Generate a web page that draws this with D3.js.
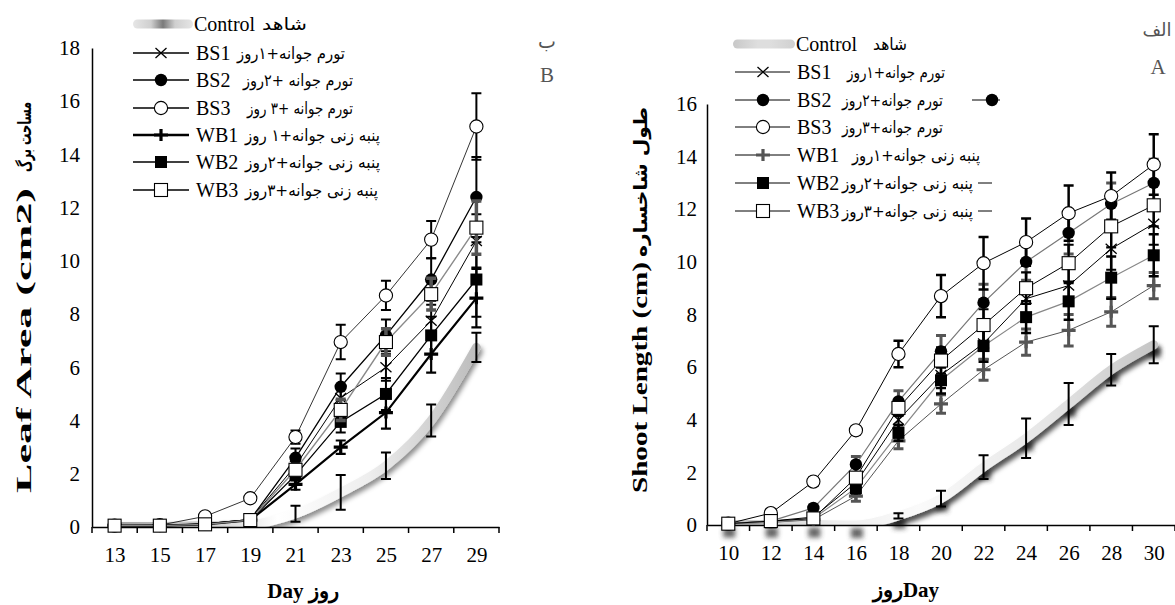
<!DOCTYPE html>
<html><head><meta charset="utf-8">
<script src="https://cdn.jsdelivr.net/npm/d3@7"></script>
<style>body{margin:0;background:#fff}svg{display:block}</style>
</head><body>
<svg id="c" width="1175" height="605"></svg>
<script>
// ---------- DATA ----------
const seriesNames = ["Control","BS1","BS2","BS3","WB1","WB2","WB3"];

const leafDays = [13,15,17,19,21,23,25,27,29];
const leafYTicks = [0,2,4,6,8,10,12,14,16,18];
const leafControl = [0.02,0.02,0.05,0.1,0.5,1.3,2.3,4.0,6.75];
const leafBS1 = [0.05,0.05,0.12,0.28,2.3,4.85,6.0,7.75,10.75];
const leafBS2 = [0.05,0.05,0.12,0.28,2.6,5.27,7.2,9.3,12.4];
const leafBS3 = [0.05,0.07,0.4,1.08,3.38,6.95,8.7,10.8,15.05];
const leafWB1 = [0.05,0.05,0.1,0.26,1.6,3.0,4.3,6.5,8.6];
const leafWB2 = [0.05,0.05,0.1,0.26,1.95,3.95,5.0,7.2,9.3];
const leafWB3 = [0.05,0.05,0.1,0.26,2.15,4.4,6.95,8.75,11.25];
const leafErrControl = [0,0,0,0.05,0.3,0.65,0.5,0.6,0.55];
const leafErrBS1 = [0.02,0.02,0.05,0.05,0.2,0.4,0.5,0.6,1.0];
const leafErrBS2 = [0.02,0.02,0.05,0.05,0.35,0.5,0.6,0.8,1.5];
const leafErrBS3 = [0.05,0.05,0.1,0.1,0.25,0.65,0.55,0.7,1.25];
const leafErrWB1 = [0.02,0.02,0.05,0.05,0.2,0.25,0.6,0.7,1.1];
const leafErrWB2 = [0.02,0.02,0.05,0.05,0.2,0.4,0.6,0.7,1.4];
const leafErrWB3 = [0.02,0.02,0.05,0.05,0.2,0.4,0.5,0.6,1.0];
const leafLegendFa = ["شاهد","تورم جوانه+۱روز","تورم جوانه +۲روز","تورم جوانه +۳ روز","پنبه زنی جوانه+۱ روز","پنبه زنی جوانه+۲روز","پنبه زنی جوانه+۳روز"];

const shootDays = [10,12,14,16,18,20,22,24,26,28,30];
const shootYTicks = [0,2,4,6,8,10,12,14,16];
const shootControl = [0.02,0.02,0.02,0.0,0.35,1.0,2.2,3.3,4.6,5.9,6.85];
const shootBS1 = [0.05,0.15,0.3,1.6,4.0,5.7,6.9,8.6,9.1,10.5,11.45];
const shootBS2 = [0.05,0.15,0.65,2.3,4.7,6.6,8.45,10.0,11.1,12.2,13.0];
const shootBS3 = [0.05,0.45,1.65,3.6,6.5,8.7,9.95,10.75,11.85,12.5,13.7];
const shootWB1 = [0.05,0.1,0.2,1.1,3.2,4.6,5.9,6.95,7.4,8.1,9.1];
const shootWB2 = [0.05,0.1,0.25,1.4,3.5,5.5,6.8,7.9,8.5,9.4,10.25];
const shootWB3 = [0.05,0.15,0.25,1.8,4.45,6.25,7.6,9.0,9.95,11.35,12.15];
const shootErrControl = [0,0,0,0,0.1,0.3,0.45,0.75,0.8,0.6,0.7];
const shootErrBS1 = [0.02,0.05,0.05,0.2,0.3,0.5,0.6,0.6,0.7,0.8,0.8];
const shootErrBS2 = [0.02,0.05,0.1,0.3,0.4,0.6,0.7,0.7,0.8,0.8,0.9];
const shootErrBS3 = [0.05,0.1,0.15,0.15,0.5,0.8,1.0,0.9,1.05,0.9,1.15];
const shootErrWB1 = [0.02,0.05,0.05,0.2,0.3,0.35,0.4,0.5,0.6,0.55,0.5];
const shootErrWB2 = [0.02,0.05,0.05,0.2,0.3,0.5,0.6,0.6,0.7,0.8,0.8];
const shootErrWB3 = [0.02,0.05,0.05,0.2,0.3,0.5,0.6,0.6,0.7,0.8,0.8];
const shootLegendFa = ["شاهد","تورم جوانه+۱روز","تورم جوانه+۲روز","تورم جوانه+۳روز","پنبه زنی جوانه+۱روز","پنبه زنی جوانه+۲روز","پنبه زنی جوانه+۳روز"];

// ---------- STYLES ----------
const leafStyle = {
  BS1:{line:"#000",lw:1,err:"#000",ew:2,mk:"x",mc:"#000"},
  BS2:{line:"#000",lw:1.3,err:"#000",ew:2,mk:"dot",mc:"#000"},
  BS3:{line:"#000",lw:0.8,err:"#000",ew:2,mk:"circle",mc:"#000"},
  WB1:{line:"#000",lw:2.2,err:"#000",ew:2.2,mk:"plus",mc:"#000"},
  WB2:{line:"#000",lw:1.3,err:"#000",ew:2,mk:"square",mc:"#000"},
  WB3:{line:"#8a8a8a",lw:1.4,err:"#555",ew:3.5,mk:"osquare",mc:"#000"}
};
const shootStyle = {
  BS1:{line:"#000",lw:1,err:"#000",ew:2.2,mk:"x",mc:"#000"},
  BS2:{line:"#777",lw:1.2,err:"#555",ew:3,mk:"dot",mc:"#000"},
  BS3:{line:"#000",lw:1,err:"#000",ew:2.5,mk:"circle",mc:"#000"},
  WB1:{line:"#555",lw:1,err:"#555",ew:3,mk:"plus",mc:"#555"},
  WB2:{line:"#888",lw:1.2,err:"#000",ew:2.5,mk:"square",mc:"#000"},
  WB3:{line:"#000",lw:1,err:"#000",ew:2.2,mk:"osquare",mc:"#000"}
};

const svg = d3.select("#c");
const defs = svg.append("defs");
const SERIF = "'Liberation Serif','Times New Roman',serif";
const FA = "'DejaVu Sans','Noto Sans',sans-serif";

function shadowFilter(id, dy, blur, op){
  const f = defs.append("filter").attr("id",id).attr("filterUnits","userSpaceOnUse")
    .attr("x",0).attr("y",0).attr("width",1175).attr("height",605);
  f.append("feGaussianBlur").attr("in","SourceAlpha").attr("stdDeviation",blur).attr("result","b");
  f.append("feOffset").attr("in","b").attr("dx",2).attr("dy",dy).attr("result","o");
  f.append("feFlood").attr("flood-color","#000").attr("flood-opacity",op).attr("result","c");
  f.append("feComposite").attr("in","c").attr("in2","o").attr("operator","in").attr("result","s");
  const m = f.append("feMerge");
  m.append("feMergeNode").attr("in","s");
  m.append("feMergeNode").attr("in","SourceGraphic");
}
shadowFilter("shL",4,2.5,0.45);
shadowFilter("shR",5,2.5,0.7);
const bf = defs.append("filter").attr("id","blurOnly").attr("filterUnits","userSpaceOnUse")
  .attr("x",0).attr("y",0).attr("width",1175).attr("height",605);
bf.append("feGaussianBlur").attr("stdDeviation",2.5);

function gradient(id, x1, x2, stops, units){
  const g = defs.append("linearGradient").attr("id",id);
  if(units){ g.attr("gradientUnits","userSpaceOnUse").attr("x1",x1).attr("x2",x2).attr("y1",0).attr("y2",0); }
  stops.forEach(s=>g.append("stop").attr("offset",s[0]).attr("stop-color",s[1]));
}
gradient("gL",113,478,[[0,"#a0a0a0"],[0.3,"#d8d8d8"],[0.45,"#ffffff"],[0.7,"#eeeeee"],[1,"#bcbcbc"]],true);
gradient("gR",728,1153,[[0,"#bdbdbd"],[0.25,"#eeeeee"],[0.45,"#fafafa"],[0.75,"#e6e6e6"],[1,"#c6c6c6"]],true);
gradient("legL",0,1,[[0,"#e6e6e6"],[0.3,"#cfcfcf"],[0.5,"#7a7a7a"],[0.7,"#cfcfcf"],[1,"#e6e6e6"]],false);
gradient("legR",0,1,[[0,"#c8c8c8"],[0.4,"#dedede"],[0.6,"#dedede"],[1,"#d0d0d0"]],false);

function marker(g, type, cx, cy, color, scale){
  const s = scale||1;
  if(type==="x"){
    g.append("path").attr("d",`M${cx-5.5*s},${cy-5*s}L${cx+5.5*s},${cy+5*s}M${cx-5.5*s},${cy+5*s}L${cx+5.5*s},${cy-5*s}`)
      .attr("stroke",color).attr("stroke-width",1.3).attr("fill","none");
  } else if(type==="dot"){
    g.append("circle").attr("cx",cx).attr("cy",cy).attr("r",6.2*s).attr("fill",color);
  } else if(type==="circle"){
    g.append("circle").attr("cx",cx).attr("cy",cy).attr("r",6.6*s).attr("fill","#fff").attr("stroke","#000").attr("stroke-width",1.1);
  } else if(type==="plus"){
    g.append("path").attr("d",`M${cx-7*s},${cy}L${cx+7*s},${cy}M${cx},${cy-6*s}L${cx},${cy+6*s}`)
      .attr("stroke",color).attr("stroke-width",3.2).attr("fill","none");
  } else if(type==="square"){
    g.append("rect").attr("x",cx-6*s).attr("y",cy-6*s).attr("width",12*s).attr("height",12*s).attr("fill",color);
  } else if(type==="osquare"){
    g.append("rect").attr("x",cx-6.5*s).attr("y",cy-6.5*s).attr("width",13*s).attr("height",13*s).attr("fill","#fff").attr("stroke","#000").attr("stroke-width",1.1);
  }
}

function drawChart(cfg){
  const g = svg.append("g");
  const x = d3.scalePoint().domain(cfg.days).range(cfg.xRange).padding(0.5);
  const y = d3.scaleLinear().domain([0, d3.max(cfg.yTicks)]).range(cfg.yRange);
  const step = x.step();
  const y0 = y(0);

  defs.append("clipPath").attr("id",cfg.clip).append("rect")
    .attr("x",cfg.xRange[0]).attr("y",0).attr("width",cfg.xRange[1]-cfg.xRange[0]).attr("height",y0);

  // control marker shadows (below everything)
  const ctrl = cfg.values.Control;
  if(cfg.controlMarkers){
    ctrl.forEach((v,i)=>{
      g.append("rect").attr("x",x(cfg.days[i])-5).attr("y",y(v)+3).attr("width",12).attr("height",10)
        .attr("fill","#333").attr("opacity",0.75).attr("filter","url(#blurOnly)");
    });
  }

  // control line
  const line = d3.line().x((d,i)=>x(cfg.days[i])).y(d=>y(d));
  const cg = g.append("g").attr("clip-path",`url(#${cfg.clip})`);
  cg.append("path").attr("d",line.curve(d3.curveMonotoneX)(ctrl))
    .attr("fill","none").attr("stroke",`url(#${cfg.grad})`).attr("stroke-width",9)
    .attr("stroke-linecap","round").attr("stroke-linejoin","round").attr("filter",`url(#${cfg.shadow})`);

  // axes
  const ya = g.append("g").attr("transform",`translate(${cfg.xRange[0]},0)`)
    .call(d3.axisLeft(y).tickValues(cfg.yTicks).tickSize(0).tickSizeOuter(0).tickPadding(cfg.yPad).tickFormat(d3.format("d")));
  ya.select(".domain").attr("stroke","#000").attr("stroke-width",1.5);
  ya.selectAll("text").attr("font-family",SERIF).attr("font-size",21).attr("fill","#000");

  const xa = g.append("g").attr("transform",`translate(0,${y0})`)
    .call(d3.axisBottom(x).tickSize(0).tickSizeOuter(0).tickPadding(20));
  xa.select(".domain").attr("stroke","#000").attr("stroke-width",1.5);
  xa.selectAll("text").attr("font-family",SERIF).attr("font-size",21).attr("fill","#000");
  const bounds = cfg.days.map(d=>x(d)-step/2).concat([x(cfg.days[cfg.days.length-1])+step/2]);
  xa.selectAll(".btick").data(bounds).enter().append("line")
    .attr("x1",d=>d).attr("x2",d=>d).attr("y1",0).attr("y2",6).attr("stroke","#000").attr("stroke-width",1.5);

  // control error bars
  const ceg = g.append("g");
  cfg.errors.Control.forEach((e,i)=>{
    if(e<=0) return;
    const cx = x(cfg.days[i]), v = ctrl[i];
    ceg.append("path").attr("d",`M${cx},${y(v-e)}L${cx},${y(v+e)}M${cx-5},${y(v-e)}L${cx+5},${y(v-e)}M${cx-5},${y(v+e)}L${cx+5},${y(v+e)}`)
      .attr("stroke","#000").attr("stroke-width",2).attr("fill","none");
  });

  // series
  seriesNames.slice(1).forEach(name=>{
    const st = cfg.styles[name], vals = cfg.values[name], errs = cfg.errors[name];
    const sg = g.append("g");
    vals.forEach((v,i)=>{
      const e = errs[i]; if(e<=0.03) return;
      const cx = x(cfg.days[i]);
      const lo = Math.max(0,v-e);
      sg.append("path").attr("d",`M${cx},${y(lo)}L${cx},${y(v+e)}M${cx-5},${y(lo)}L${cx+5},${y(lo)}M${cx-5},${y(v+e)}L${cx+5},${y(v+e)}`)
        .attr("stroke",st.err).attr("stroke-width",st.ew).attr("fill","none");
    });
    sg.append("path").attr("d",d3.line().x((d,i)=>x(cfg.days[i])).y(d=>y(d))(vals))
      .attr("fill","none").attr("stroke",st.line).attr("stroke-width",st.lw);
    vals.forEach((v,i)=>marker(sg, st.mk, x(cfg.days[i]), y(v), st.mc));
  });
  return {x,y};
}

drawChart({days:leafDays, yTicks:leafYTicks, xRange:[92,499], yRange:[527,48], yPad:12,
  values:{Control:leafControl,BS1:leafBS1,BS2:leafBS2,BS3:leafBS3,WB1:leafWB1,WB2:leafWB2,WB3:leafWB3},
  errors:{Control:leafErrControl,BS1:leafErrBS1,BS2:leafErrBS2,BS3:leafErrBS3,WB1:leafErrWB1,WB2:leafErrWB2,WB3:leafErrWB3},
  styles:leafStyle, grad:"gL", shadow:"shL", clip:"clipL", controlMarkers:false});

drawChart({days:shootDays, yTicks:shootYTicks, xRange:[707,1175], yRange:[525,104], yPad:10,
  values:{Control:shootControl,BS1:shootBS1,BS2:shootBS2,BS3:shootBS3,WB1:shootWB1,WB2:shootWB2,WB3:shootWB3},
  errors:{Control:shootErrControl,BS1:shootErrBS1,BS2:shootErrBS2,BS3:shootErrBS3,WB1:shootErrWB1,WB2:shootErrWB2,WB3:shootErrWB3},
  styles:shootStyle, grad:"gR", shadow:"shR", clip:"clipR", controlMarkers:true});

// ---------- LEGENDS ----------
function legend(cfg){
  const g = svg.append("g");
  seriesNames.forEach((name,i)=>{
    const yy = cfg.rows[i];
    if(name==="Control"){
      g.append("rect").attr("x",cfg.cx0).attr("y",yy-4.5).attr("width",cfg.cx1-cfg.cx0).attr("height",9)
        .attr("rx",4.5).attr("fill",`url(#${cfg.grad})`);
      g.append("text").attr("x",cfg.cx1+1).attr("y",yy+7).text("Control")
        .attr("font-family",SERIF).attr("font-size",20);
    } else {
      const st = cfg.styles[name];
      g.append("line").attr("x1",cfg.lx0).attr("x2",cfg.lx1).attr("y1",yy).attr("y2",yy)
        .attr("stroke","#000").attr("stroke-width",name==="WB1"?cfg.thick:cfg.lw);
      marker(g, st.mk, cfg.mx, yy, st.mc);
      g.append("text").attr("x",cfg.tx).attr("y",yy+7).text(name)
        .attr("font-family",SERIF).attr("font-size",20);
    }
    g.append("text").attr("x",cfg.faX[i]).attr("y",yy+6).text(cfg.fa[i])
      .attr("font-family",FA).attr("font-size",16.5)
      .attr("textLength",cfg.faW[i]).attr("lengthAdjust","spacingAndGlyphs");
  });
  if(cfg.trail) cfg.trail(g);
}
legend({rows:[24,53,80,108,135,162,190], cx0:133, cx1:193, lx0:133, lx1:189, mx:161, tx:196,
  lw:1.3, thick:2.6, grad:"legL", styles:leafStyle, fa:leafLegendFa,
  faX:[262,237,243,247,245,245,245], faW:[45,108,110,106,135,135,133]});
legend({rows:[44,72,100,127,155,183,211], cx0:733, cx1:795, lx0:735, lx1:790, mx:763, tx:797,
  lw:1, thick:1, grad:"legR", styles:shootStyle, fa:shootLegendFa,
  faX:[873,847,842,842,852,842,842], faW:[34,98,101,101,128,131,131],
  trail:(g)=>{
    g.append("line").attr("x1",972).attr("x2",1000).attr("y1",100).attr("y2",100).attr("stroke","#000");
    marker(g,"dot",992,100,"#000");
    g.append("line").attr("x1",978).attr("x2",992).attr("y1",183).attr("y2",183).attr("stroke","#000");
    g.append("line").attr("x1",978).attr("x2",992).attr("y1",211).attr("y2",211).attr("stroke","#000");
  }});

// ---------- TITLES ----------
const t = svg.append("g").attr("font-family",SERIF).attr("font-weight","bold").attr("font-size",21);
t.append("text").attr("x",303).attr("y",598).attr("text-anchor","middle").text("Day روز");
t.append("text").attr("x",906).attr("y",597).attr("text-anchor","middle").text("روزDay");
t.append("text").attr("transform","translate(31,493) rotate(-90)").text("Leaf Area (cm2)")
  .attr("font-size",22).attr("textLength",305).attr("lengthAdjust","spacingAndGlyphs");
t.append("text").attr("transform","translate(31,172) rotate(-90)").text("مساحت برگ")
  .attr("font-family",FA).attr("font-size",18).attr("textLength",70).attr("lengthAdjust","spacingAndGlyphs");
t.append("text").attr("transform","translate(647,493) rotate(-90)").text("Shoot Length (cm)")
  .attr("font-size",22).attr("textLength",231).attr("lengthAdjust","spacingAndGlyphs");
t.append("text").attr("transform","translate(647,257) rotate(-90)").text("طول شاخساره")
  .attr("font-family",FA).attr("font-size",18).attr("textLength",150).attr("lengthAdjust","spacingAndGlyphs");

const lt = svg.append("g").attr("fill","#555").attr("font-family",SERIF).attr("font-size",21);
lt.append("text").attr("x",547).attr("y",48).attr("text-anchor","middle").attr("font-family",FA).attr("font-size",19).text("ب");
lt.append("text").attr("x",547).attr("y",82).attr("text-anchor","middle").text("B");
lt.append("text").attr("x",1157).attr("y",36).attr("text-anchor","middle").attr("font-family",FA).attr("font-size",18).text("الف");
lt.append("text").attr("x",1158).attr("y",74).attr("text-anchor","middle").text("A");
</script>
</body></html>
